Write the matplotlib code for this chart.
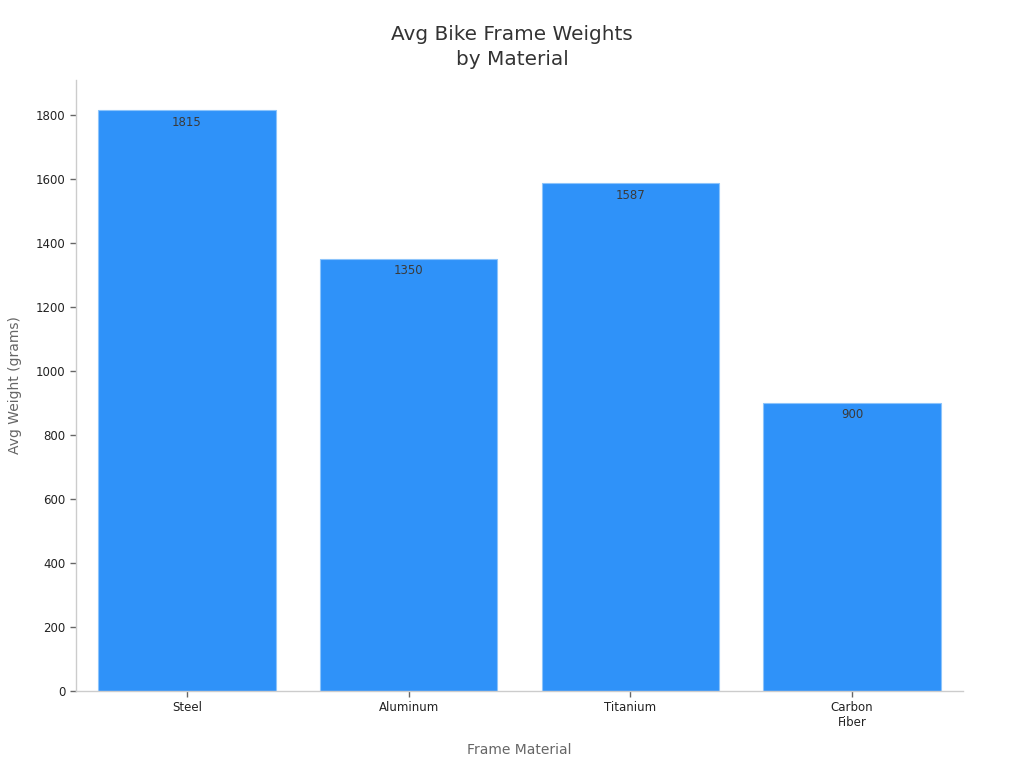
import numpy as np
import matplotlib
matplotlib.use("Agg")
import matplotlib.pyplot as plt

# Данные
materials = ["Steel", "Aluminum", "Titanium", "Carbon\nFiber"]
weights = [1815, 1350, 1587, 900]

bar_color = "#2f92f9"
spine_color = "#cccccc"

fig = plt.figure(figsize=(10.24, 7.68), dpi=100)
ax = fig.add_axes([0.0742, 0.1003, 0.8662, 0.7955])

x = np.arange(len(materials))
bars = ax.bar(x, weights, width=0.8, color=bar_color, edgecolor="#8cc4fb", linewidth=0.8)

# Подписи значений внутри столбцов
for xi, w in zip(x, weights):
    ax.annotate(str(w), (xi, w), xytext=(0, -4), textcoords="offset points",
                ha="center", va="top", fontsize=8.5, color="#3a3a3a")

ax.set_xlim(-0.5, len(materials) - 0.5)
ax.set_ylim(0, 1909)
ax.set_yticks(np.arange(0, 1801, 200))
ax.set_xticks(x)
ax.set_xticklabels(materials)

for side in ["top", "right"]:
    ax.spines[side].set_visible(False)
for side in ["left", "bottom"]:
    ax.spines[side].set_color(spine_color)
    ax.spines[side].set_linewidth(1)

ax.tick_params(axis="both", colors="#666666", labelcolor="#222222", labelsize=8.5, length=4, width=1)

ax.set_xlabel("Frame Material", fontsize=10, color="#666666", labelpad=10)
ax.set_ylabel("Avg Weight (grams)", fontsize=10, color="#666666", labelpad=10)
fig.suptitle("Avg Bike Frame Weights\nby Material", fontsize=14.4, color="#333333",
             y=0.968, linespacing=1.45)

fig.savefig("out.png", dpi=100)
